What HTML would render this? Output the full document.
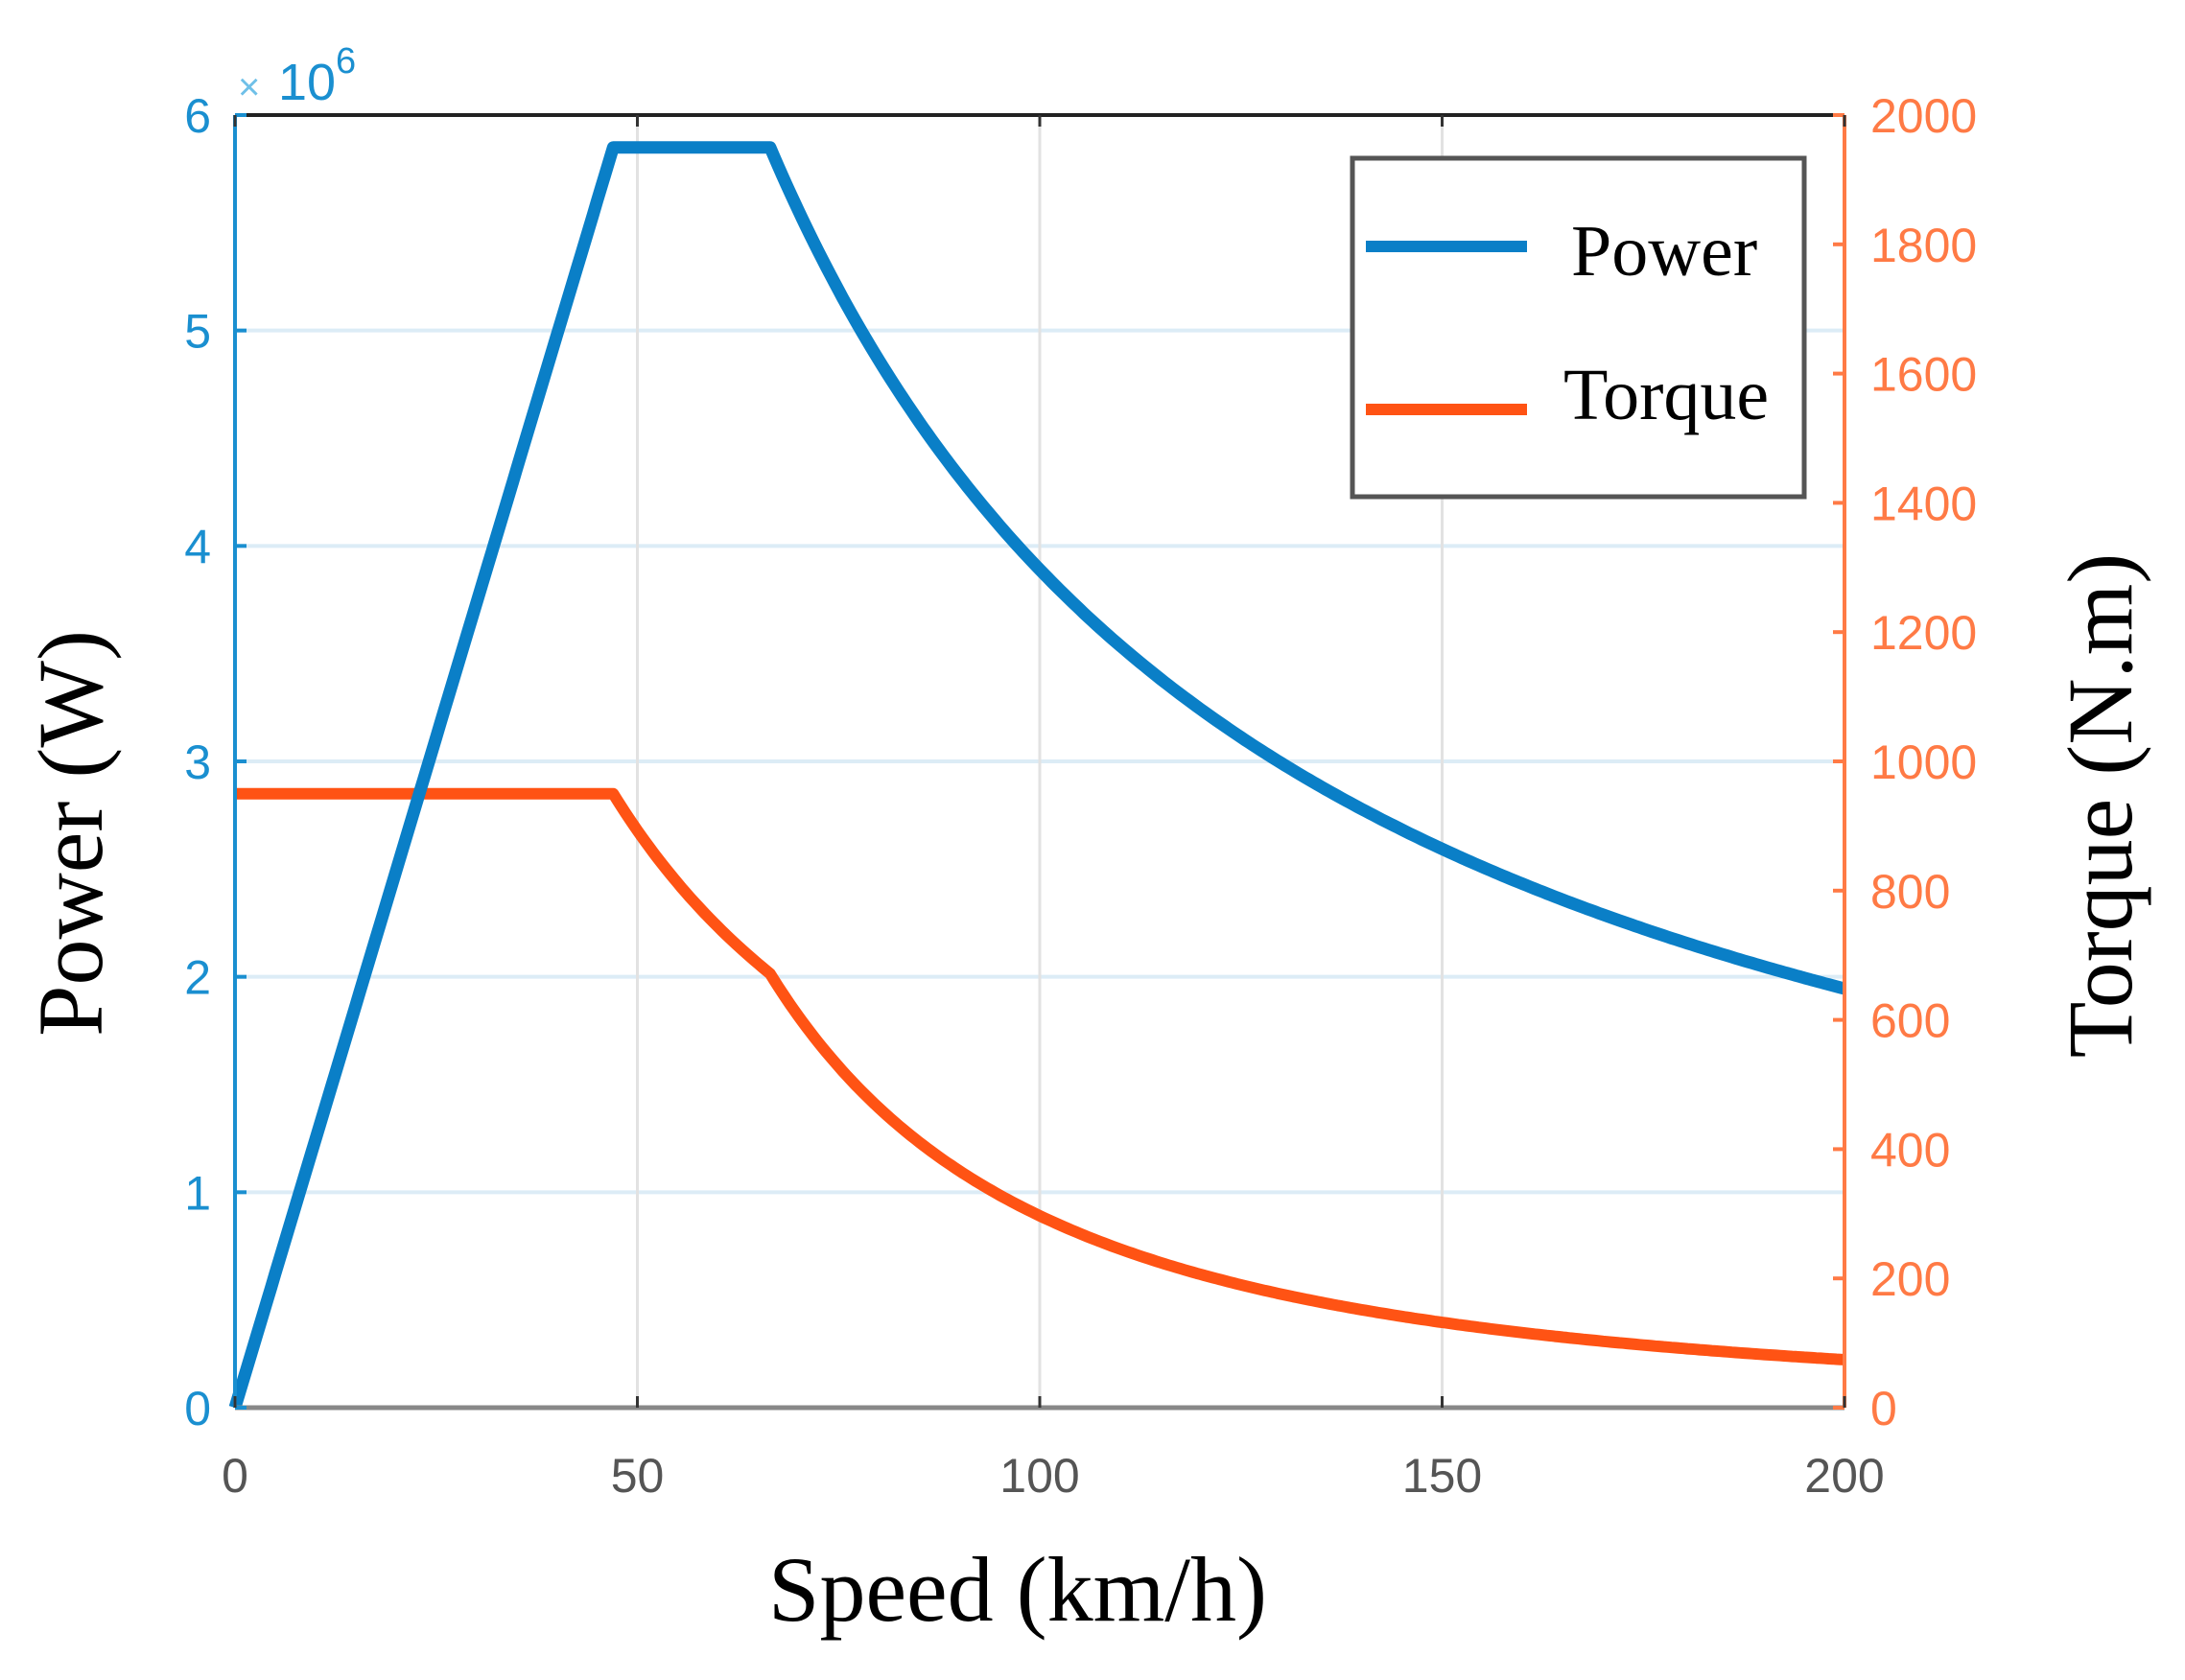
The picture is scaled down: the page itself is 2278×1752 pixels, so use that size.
<!DOCTYPE html>
<html><head><meta charset="utf-8"><style>
html,body{margin:0;padding:0;background:#fff;}
svg{display:block;}
</style></head><body>
<svg id="s" width="2278" height="1752" xmlns="http://www.w3.org/2000/svg">
<rect width="2278" height="1752" fill="#fff"/>
<g id="grid"></g>
<g id="series"></g>
<g id="axes"></g>
<!-- legend -->
<rect x="1410" y="165" width="471" height="353" fill="#fff" stroke="#555" stroke-width="5"/>
<line x1="1424" y1="257" x2="1592" y2="257" stroke="#0a7fc7" stroke-width="12"/>
<line x1="1424" y1="427" x2="1592" y2="427" stroke="#ff5314" stroke-width="12"/>
<text x="1638" y="287" font-family="Liberation Serif, serif" font-size="76" fill="#000">Power</text>
<text x="1630" y="437" font-family="Liberation Serif, serif" font-size="76" fill="#000">Torque</text>
<!-- axis labels -->
<text x="1061" y="1690" text-anchor="middle" font-family="Liberation Serif, serif" font-size="96" fill="#000">Speed (km/h)</text>
<text transform="translate(106,869) rotate(-90)" text-anchor="middle" font-family="Liberation Serif, serif" font-size="96" fill="#000">Power (W)</text>
<text transform="translate(2222,840) rotate(-90)" text-anchor="middle" font-family="Liberation Serif, serif" font-size="96" fill="#000">Torque (N.m)</text>
<text x="248" y="104" font-family="Liberation Sans, sans-serif" font-size="40" fill="#6fc0e8">×</text>
<text x="290" y="104" font-family="Liberation Sans, sans-serif" font-size="54" fill="#1a8fd0">10</text>
<text x="350" y="76" font-family="Liberation Sans, sans-serif" font-size="38" fill="#1a8fd0">6</text>
</svg>
<script>
var L=245,R=1923,T=120,B=1468;
function X(v){return L+(R-L)*v/200;}
function YP(p){return B-(B-T)*p/6;}
function YT(t){return B-(B-T)*t/2000;}
var ns="http://www.w3.org/2000/svg";
function el(g,tag,a,txt){var e=document.createElementNS(ns,tag);for(var k in a)e.setAttribute(k,a[k]);if(txt!==undefined)e.textContent=txt;document.getElementById(g).appendChild(e);return e;}
for(var i=1;i<6;i++)el("grid","line",{x1:L,x2:R,y1:YP(i),y2:YP(i),stroke:"#dcecf6","stroke-width":4});
for(var i=50;i<200;i+=50)el("grid","line",{x1:X(i),x2:X(i),y1:T,y2:B,stroke:"#e2e2e2","stroke-width":3});
var v1=47,v2=66.5,Pm=5.85,Tm=950;
var pp=[],tp=[];
for(var v=0;v<=200;v+=0.5){
 var p=v<=v1?Pm*v/v1:(v<=v2?Pm:Pm*v2/v);
 var t=v<=v1?Tm:(v<=v2?Tm*v1/v:Tm*v1/v2*Math.pow(v2/v,2));
 pp.push(X(v).toFixed(1)+","+YP(p).toFixed(1));tp.push(X(v).toFixed(1)+","+YT(t).toFixed(1));
}
el("series","polyline",{points:tp.join(" "),fill:"none",stroke:"#ff5314","stroke-width":12,"stroke-linejoin":"round"});
el("series","polyline",{points:pp.join(" "),fill:"none",stroke:"#0a7fc7","stroke-width":13,"stroke-linejoin":"round"});
el("axes","line",{x1:L,x2:R,y1:T,y2:T,stroke:"#222","stroke-width":4});
el("axes","line",{x1:L,x2:R,y1:B,y2:B,stroke:"#888","stroke-width":5});
el("axes","line",{x1:L,x2:L,y1:T,y2:B,stroke:"#1a8fd0","stroke-width":4});
el("axes","line",{x1:R,x2:R,y1:T,y2:B,stroke:"#ff7a45","stroke-width":4});
for(var i=0;i<=6;i++){el("axes","line",{x1:L,x2:L+12,y1:YP(i),y2:YP(i),stroke:"#1a8fd0","stroke-width":4});
 el("axes","text",{x:220,y:YP(i)+18,"text-anchor":"end","font-family":"Liberation Sans, sans-serif","font-size":50,fill:"#1a8fd0"},String(i));}
for(var i=0;i<=2000;i+=200){el("axes","line",{x1:R-12,x2:R,y1:YT(i),y2:YT(i),stroke:"#ff7a45","stroke-width":4});
 el("axes","text",{x:1950,y:YT(i)+18,"font-family":"Liberation Sans, sans-serif","font-size":50,fill:"#ff7a45"},String(i));}
for(var i=0;i<=200;i+=50){el("axes","line",{x1:X(i),x2:X(i),y1:B-12,y2:B,stroke:"#333","stroke-width":3});el("axes","line",{x1:X(i),x2:X(i),y1:T,y2:T+12,stroke:"#333","stroke-width":3});
 el("axes","text",{x:X(i),y:1556,"text-anchor":"middle","font-family":"Liberation Sans, sans-serif","font-size":50,fill:"#555"},String(i));}
</script>
</body></html>
